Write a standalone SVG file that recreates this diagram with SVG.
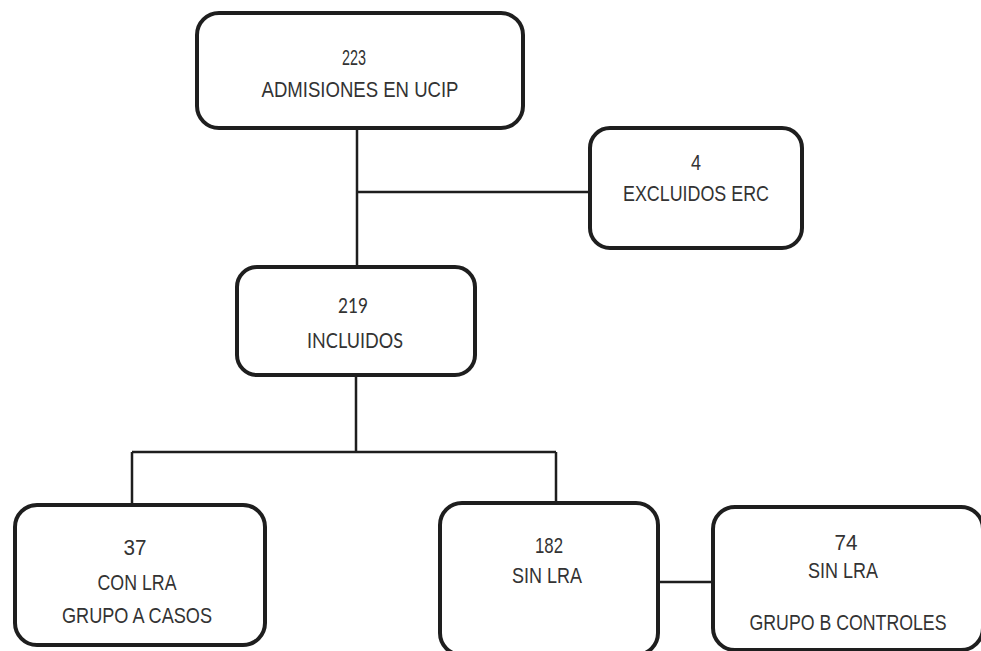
<svg xmlns="http://www.w3.org/2000/svg" width="981" height="651" viewBox="0 0 981 651">
<style>
.box{fill:#fff;stroke:#1e1e1e;stroke-width:4}
.t{font-family:"Liberation Sans",Arial,sans-serif;font-size:22px;fill:#333;text-anchor:middle}
.c{font-family:Lato,"Open Sans",sans-serif;font-size:22px;fill:#333;text-anchor:middle}
.ln{stroke:#1e1e1e;stroke-width:2.5;fill:none}
</style>
<rect width="981" height="651" fill="#fff"/>
<g id="connectors">
<path class="ln" d="M357 128V267M357 192H590M356 375V452M132 452H556M132 452V505M556 452V503M658 582H713"/>
</g>
<g id="n223">
<rect class="box" x="197" y="13" width="326" height="115" rx="22"/>
<text class="t" x="354" y="65" textLength="24" lengthAdjust="spacingAndGlyphs">223</text>
<text class="t" x="360" y="97" textLength="197" lengthAdjust="spacingAndGlyphs">ADMISIONES  EN UCIP</text>
</g>
<g id="n4">
<rect class="box" x="590" y="128" width="212" height="120" rx="20"/>
<text class="t" x="696" y="170" textLength="10" lengthAdjust="spacingAndGlyphs">4</text>
<text class="t" x="696" y="201" textLength="146" lengthAdjust="spacingAndGlyphs">EXCLUIDOS ERC</text>
</g>
<g id="n219">
<rect class="box" x="237" y="267" width="238" height="108" rx="20"/>
<text class="c" x="353" y="313" textLength="30" lengthAdjust="spacingAndGlyphs">219</text>
<text class="c" x="355" y="348" textLength="96" lengthAdjust="spacingAndGlyphs">INCLUIDOS</text>
</g>
<g id="n37">
<rect class="box" x="15" y="505" width="250" height="140" rx="22"/>
<text class="t" x="135" y="555" textLength="23" lengthAdjust="spacingAndGlyphs">37</text>
<text class="t" x="137" y="590" textLength="79" lengthAdjust="spacingAndGlyphs">CON LRA</text>
<text class="t" x="137" y="623" textLength="150" lengthAdjust="spacingAndGlyphs">GRUPO  A CASOS</text>
</g>
<g id="n182">
<rect class="box" x="440" y="503" width="218" height="152" rx="22"/>
<text class="t" x="549" y="553" textLength="28" lengthAdjust="spacingAndGlyphs">182</text>
<text class="t" x="547" y="583" textLength="70" lengthAdjust="spacingAndGlyphs">SIN LRA</text>
</g>
<g id="n74">
<rect class="box" x="713" y="507" width="270" height="143" rx="22"/>
<text class="t" x="846" y="550" textLength="23" lengthAdjust="spacingAndGlyphs">74</text>
<text class="t" x="843" y="578" textLength="70" lengthAdjust="spacingAndGlyphs">SIN LRA</text>
<text class="t" x="848" y="630" textLength="197" lengthAdjust="spacingAndGlyphs">GRUPO  B CONTROLES</text>
</g>
</svg>
